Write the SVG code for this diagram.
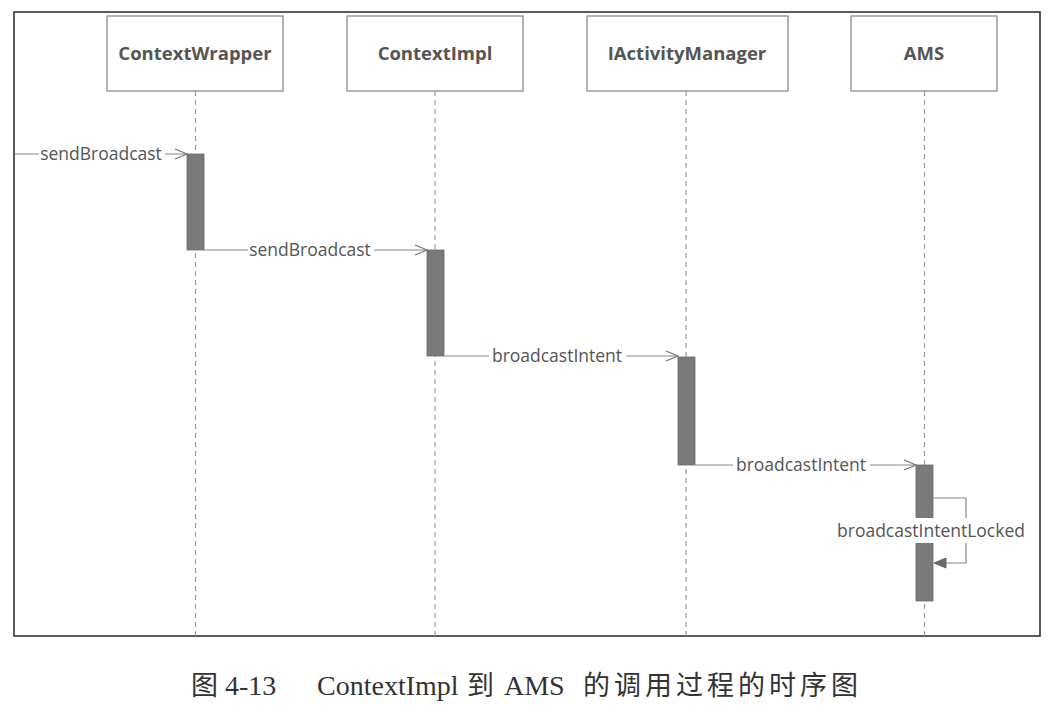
<svg xmlns="http://www.w3.org/2000/svg" width="1054" height="714" viewBox="0 0 1054 714">
<style>
.node rect.box{fill:#fff;stroke:#8a8a8a;stroke-width:1.3}
.node text{font-family:"Open Sans","Noto Sans",sans-serif;font-weight:bold;font-size:18.5px;fill:#555;text-anchor:middle}
.life{stroke:#9a9a9a;stroke-width:1.2;stroke-dasharray:5 4;fill:none}
.node rect.act{fill:#7a7a7a;stroke:#6a6a6a;stroke-width:0.8}
.msg{stroke:#888;stroke-width:1.2;fill:none}
.lbl{font-family:"Open Sans","Noto Sans",sans-serif;font-size:17.5px;fill:#555;text-anchor:middle}
.bg{fill:#fff}
.cap{font-family:"Liberation Serif","Noto Sans CJK SC",serif;font-size:28px;fill:#333}
.cjk{font-size:27px}
</style>
<defs>
<marker id="open" markerWidth="14" markerHeight="12" refX="13" refY="6" orient="auto" markerUnits="userSpaceOnUse">
<path d="M1,1 L13,6 L1,11" fill="none" stroke="#777" stroke-width="1.2"/>
</marker>
<marker id="fill" markerWidth="14" markerHeight="12" refX="13" refY="6" orient="auto" markerUnits="userSpaceOnUse">
<path d="M1,1 L13,6 L1,11 Z" fill="#6a6a6a" stroke="#6a6a6a" stroke-width="1"/>
</marker>
</defs>
<rect x="0" y="0" width="1054" height="714" fill="#fff"/>
<rect x="14" y="12" width="1026" height="624" fill="none" stroke="#333" stroke-width="1.6"/>

<g id="lifelines">
<line class="life" x1="195.5" y1="91" x2="195.5" y2="636"/>
<line class="life" x1="435" y1="91" x2="435" y2="636"/>
<line class="life" x1="686" y1="91" x2="686" y2="636"/>
<line class="life" x1="924.5" y1="91" x2="924.5" y2="636"/>
</g>

<g id="ContextWrapper" class="node">
<rect class="box" x="107" y="16" width="176" height="75"/>
<text x="195" y="60">ContextWrapper</text>
<rect class="act" x="187" y="154" width="17" height="96"/>
</g>
<g id="ContextImpl" class="node">
<rect class="box" x="347" y="16" width="176" height="75"/>
<text x="435" y="60">ContextImpl</text>
<rect class="act" x="427" y="250" width="17" height="106"/>
</g>
<g id="IActivityManager" class="node">
<rect class="box" x="587" y="16" width="201" height="75"/>
<text x="687" y="60">IActivityManager</text>
<rect class="act" x="678" y="357" width="17" height="108"/>
</g>
<g id="AMS" class="node">
<rect class="box" x="851" y="16" width="146" height="75"/>
<text x="924" y="60">AMS</text>
<rect class="act" x="916" y="465" width="17" height="136"/>
</g>

<g id="connectors">
<line class="msg" x1="15" y1="154" x2="187" y2="154" marker-end="url(#open)"/>
<rect class="bg" x="39" y="144" width="126" height="20"/>
<text class="lbl" x="101" y="160">sendBroadcast</text>

<line class="msg" x1="204" y1="250" x2="427" y2="250" marker-end="url(#open)"/>
<rect class="bg" x="248" y="240" width="126" height="20"/>
<text class="lbl" x="310" y="256">sendBroadcast</text>

<line class="msg" x1="444" y1="356" x2="678" y2="356" marker-end="url(#open)"/>
<rect class="bg" x="489" y="346" width="137" height="20"/>
<text class="lbl" x="557" y="362">broadcastIntent</text>

<line class="msg" x1="695" y1="465" x2="916" y2="465" marker-end="url(#open)"/>
<rect class="bg" x="733" y="455" width="137" height="20"/>
<text class="lbl" x="801" y="471">broadcastIntent</text>

<polyline class="msg" points="933,498 966,498 966,563 934,563" marker-end="url(#fill)"/>
<rect class="bg" x="833" y="518" width="197" height="25"/>
<text class="lbl" x="931" y="537">broadcastIntentLocked</text>
</g>

<text class="cap" y="695"><tspan class="cjk" x="191">图</tspan><tspan x="225">4-13</tspan><tspan x="317">ContextImpl</tspan><tspan class="cjk" x="467">到</tspan><tspan x="504">AMS</tspan><tspan class="cjk" x="583" letter-spacing="4">的调用过程的时序图</tspan></text>
</svg>
